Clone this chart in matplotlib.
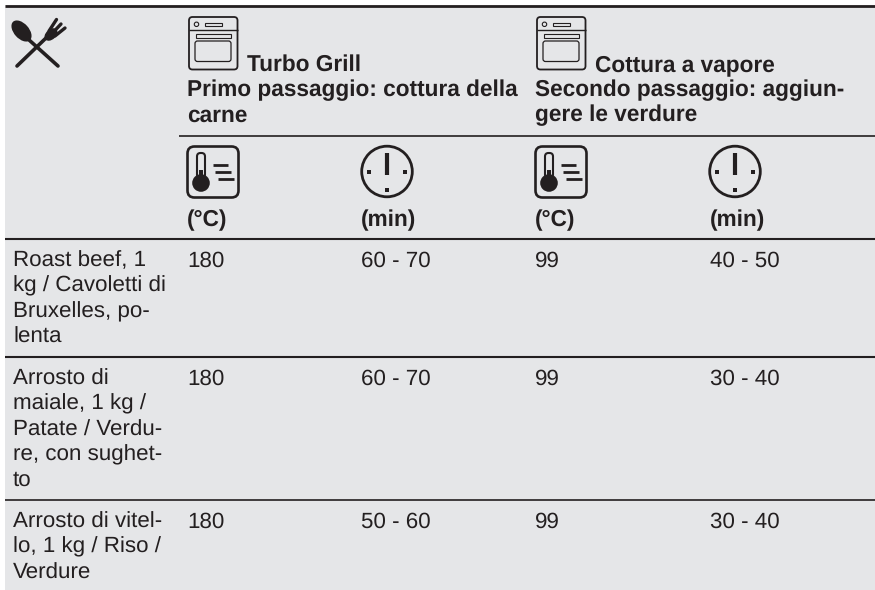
import matplotlib
matplotlib.use('Agg')
import matplotlib.pyplot as plt
from matplotlib.patches import Rectangle, FancyBboxPatch, Circle, Ellipse

dishes = [
    ['Roast beef, 1', 'kg / Cavoletti di', 'Bruxelles, po-', 'lenta'],
    ['Arrosto di', 'maiale, 1 kg /', 'Patate / Verdu-', 're, con sughet-', 'to'],
    ['Arrosto di vitel-', 'lo, 1 kg / Riso /', 'Verdure'],
]
temp_grill = ['180', '180', '180']
time_grill = ['60 - 70', '60 - 70', '50 - 60']
temp_steam = ['99', '99', '99']
time_steam = ['40 - 50', '30 - 40', '30 - 40']

header_grill = ['Primo passaggio: cottura della', 'carne']
header_steam = ['Secondo passaggio: aggiun-', 'gere le verdure']
units = ['(°C)', '(min)', '(°C)', '(min)']

INK = '#231f20'
BG = '#e5e6e8'
LINE_H = 25.4
col_x = [187, 361, 535, 710]
row_y = [266.5, 384.5, 527.5]

plt.rcParams['font.family'] = ['Liberation Sans', 'DejaVu Sans']
plt.rcParams['text.hinting'] = 'none'

fig = plt.figure(figsize=(8.75, 5.9), dpi=100)
ax = fig.add_axes([0, 0, 1, 1])
ax.set_xlim(0, 875)
ax.set_ylim(590, 0)
ax.axis('off')


def txt(x, y, s, bold=False):
    ax.text(x, y, s, fontsize=16.3 if bold else 16.15, color=INK,
            va='baseline', ha='left',
            fontweight='bold' if bold else 'normal')


def hline(y, x0, lw):
    ax.plot([x0, 875], [y, y], color=INK, lw=lw, solid_capstyle='butt')


def box(x0, y0, x1, y1, r, lw):
    ax.add_patch(FancyBboxPatch((x0, y0), x1 - x0, y1 - y0,
                                boxstyle='round,pad=0,rounding_size=%s' % r,
                                fc='none', ec=INK, lw=lw))


def stroke(xs, ys, lw, cap='round'):
    ax.plot(xs, ys, color=INK, lw=lw, solid_capstyle=cap)


def oven(dx):
    box(189 + dx, 17, 237.5 + dx, 69.5, 3.5, 1.3)
    stroke([189 + dx, 237.5 + dx], [30, 30], 1.0, 'butt')
    ax.add_patch(Circle((196.5 + dx, 24.3), 2.2, fc='none', ec=INK, lw=0.8))
    ax.add_patch(Rectangle((204.5 + dx, 22.5), 17, 3.8, fc='none', ec=INK, lw=0.8))
    ax.add_patch(Rectangle((195.5 + dx, 33.5), 35.5, 4, fc='none', ec=INK, lw=0.8))
    box(195 + dx, 41, 231 + dx, 61.5, 2.5, 0.9)


def thermo(dx):
    box(187.5 + dx, 146.5, 238.5 + dx, 197.5, 7, 1.9)
    ax.add_patch(Circle((201 + dx, 183), 8.8, fc=INK, ec='none'))
    box(197 + dx, 153, 205 + dx, 178, 3.5, 1.5)
    ax.add_patch(Rectangle((199 + dx, 170), 4, 8, fc=INK, ec='none'))
    stroke([213 + dx, 228 + dx], [164.5, 164.5], 2.0, 'butt')
    stroke([215 + dx, 231 + dx], [171.5, 171.5], 2.0, 'butt')
    stroke([218 + dx, 233.5 + dx], [178.5, 178.5], 2.0, 'butt')


def clock(dx):
    cx = 387 + dx
    ax.add_patch(Circle((cx, 171.5), 25.3, fc='none', ec=INK, lw=2.0))
    stroke([cx, cx], [153, 175], 3.0, 'butt')
    for px, py in [(cx - 18, 172), (cx + 18, 172), (cx, 190)]:
        ax.add_patch(Rectangle((px - 2, py - 2), 4, 4, fc=INK, ec='none'))


def cutlery():
    # spoon
    ax.add_patch(Ellipse((21.5, 31), 15, 25, angle=-42, fc=INK, ec='none'))
    stroke([28, 58], [39, 66], 2.6)
    # fork
    stroke([17, 46], [66, 38], 2.6)
    ax.add_patch(Ellipse((51, 34.5), 15, 10, angle=-42, fc=INK, ec='none'))
    stroke([49, 56.5], [31, 19.5], 2.4)
    stroke([52.5, 61], [33, 24], 2.4)
    stroke([55, 65], [36, 28], 2.4)


ax.add_patch(Rectangle((5, 5), 870, 585, fc=BG, ec='none'))

hline(5.5, 5, 2.0)
hline(135.5, 179, 1.2)
hline(239, 5, 1.5)
hline(356.5, 5, 1.5)
hline(500, 5, 1.2)

cutlery()
oven(0)
oven(348)
for dx in (0, 348):
    thermo(dx)
    clock(dx)

txt(247, 71, 'Turbo Grill', True)
txt(595, 71, 'Cottura a vapore', True)
for i, s in enumerate(header_grill):
    txt(187, 96 + i * LINE_H, s, True)
for i, s in enumerate(header_steam):
    txt(535, 96 + i * LINE_H, s, True)
for x, s in zip(col_x, units):
    txt(x, 226, s, True)

for r, lines in enumerate(dishes):
    for i, s in enumerate(lines):
        txt(13, row_y[r] + i * LINE_H, s)
    txt(col_x[0], row_y[r], temp_grill[r])
    txt(col_x[1], row_y[r], time_grill[r])
    txt(col_x[2], row_y[r], temp_steam[r])
    txt(col_x[3], row_y[r], time_steam[r])

fig.savefig('out.png', dpi=100, facecolor='white')
